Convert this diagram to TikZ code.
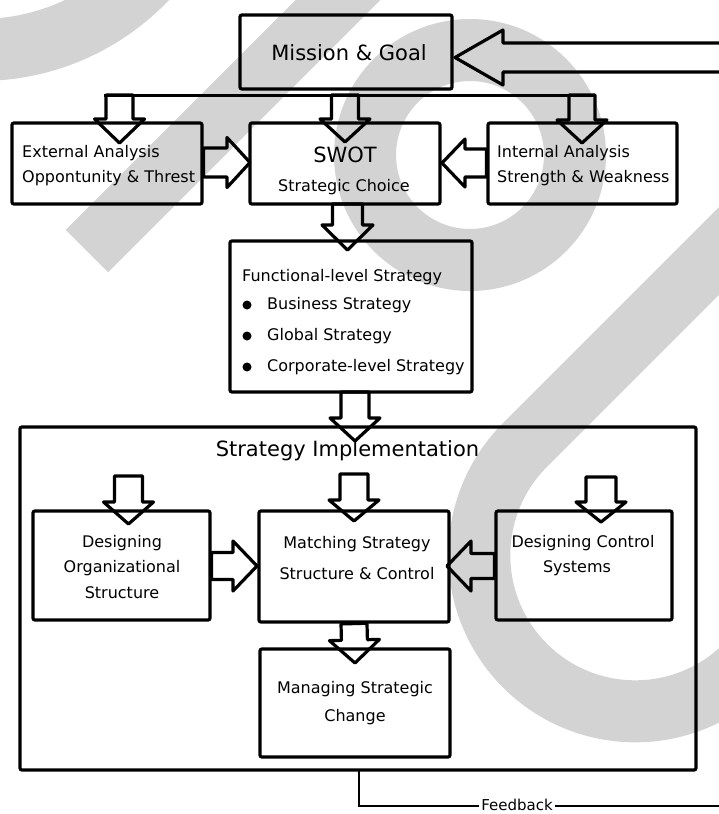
\documentclass[tikz,border=0pt]{standalone}
\usepackage{fontspec}
\setmainfont{DejaVu Sans}
\usetikzlibrary{calc}
\definecolor{wmgray}{RGB}{211,211,211}
\newcommand{\hollowarrow}[5]{%
  \path ($(#2)!#5!(#1)$) coordinate (hb);
  \draw[hollow] ($(#1)!#3!90:(#2)$) -- ($(hb)!#3!90:(#2)$) -- ($(hb)!#4!90:(#2)$) -- (#2)
    -- ($(hb)!#4!-90:(#2)$) -- ($(hb)!#3!-90:(#2)$) -- ($(#1)!#3!-90:(#2)$) -- cycle;
}
\tikzset{
  box/.style={draw, line width=3.2pt, rounded corners=2pt, inner sep=0pt},
  hollow/.style={draw, line width=3.2pt, line join=round},
  small/.style={font=\fontsize{16}{19}\selectfont, inner sep=0pt},
  big/.style={font=\fontsize{21}{25}\selectfont, inner sep=0pt},
  wm/.style={draw=wmgray, line cap=butt},
}
\begin{document}
\begin{tikzpicture}[x=1pt,y=-1pt]
\useasboundingbox (0,0) rectangle (719,814);
\clip (0,0) rectangle (719,814);
\fill[white] (0,0) rectangle (719,814);
% watermark
\draw[wm, line width=62pt] (-20,-180) circle (230);
\draw[wm, line width=60pt] (87,251) -- (487,-149);
\draw[wm, line width=62pt] (470,155) circle (105);
\draw[wm, line width=62pt] (825,145) -- (525,445) arc[start angle=225, end angle=-30, radius=156];
% boxes
\node[box, minimum width=212, minimum height=74] (mission) at (346,52) {};
\node[box, minimum width=190, minimum height=81] (ext) at (107,163.5) {};
\node[box, minimum width=190, minimum height=81] (swot) at (345,163.5) {};
\node[box, minimum width=189, minimum height=81] (int) at (582.5,163.5) {};
\node[box, minimum width=242, minimum height=151] (func) at (351,316.5) {};
\node[box, minimum width=676, minimum height=343] (impl) at (358,598.5) {};
\node[box, minimum width=177, minimum height=109] (org) at (121.5,565.5) {};
\node[box, minimum width=190, minimum height=111] (match) at (354,566.5) {};
\node[box, minimum width=176, minimum height=109] (dcs) at (584,565.5) {};
\node[box, minimum width=190, minimum height=108] (manage) at (355,703) {};
% texts
\node[big] (missiont) at (349,53) {Mission \& Goal};
\node[small, anchor=west] (ext1) at (22,153) {External Analysis};
\node[small, anchor=west] (ext2) at (22,178) {Oppontunity \& Threst};
\node[big] (swot1) at (345,155) {SWOT};
\node[small] (swot2) at (344,187) {Strategic Choice};
\node[small, anchor=west] (int1) at (497,153) {Internal Analysis};
\node[small, anchor=west] (int2) at (497,178) {Strength \& Weakness};
\node[small, anchor=west] (func0) at (242,277) {Functional-level Strategy};
\fill (247,305) circle (4.5) (247,336) circle (4.5) (247,367) circle (4.5);
\node[small, anchor=west] (func1) at (267,305) {Business Strategy};
\node[small, anchor=west] (func2) at (267,336) {Global Strategy};
\node[small, anchor=west] (func3) at (267,367) {Corporate-level Strategy};
\node[big] (implt) at (347.5,451) {Strategy Implementation};
\node[small] (org1) at (122,543) {Designing};
\node[small] (org2) at (122,568) {Organizational};
\node[small] (org3) at (122,593) {Structure};
\node[small] (match1) at (357,544) {Matching Strategy};
\node[small] (match2) at (357,574) {Structure \& Control};
\node[small] (dcs1) at (583,543) {Designing Control};
\node[small] (dcs2) at (577,568) {Systems};
\node[small] (man1) at (355,689) {Managing Strategic};
\node[small] (man2) at (355,717) {Change};
% connector coordinates
\coordinate (busL) at (104,95);
\coordinate (busR) at (596,95);
\coordinate (busE) at (119.5,95);
\coordinate (busS) at (345,95);
\coordinate (busI) at (582,95);
\coordinate (tipE) at (119.5,143);
\coordinate (tipS) at (345,142);
\coordinate (tipI) at (582,143);
\coordinate (fbin) at (730,57.5);
\coordinate (mtip) at (455,57.5);
\draw[line width=3pt] (busL) -- (busR);
\hollowarrow{busE}{tipE}{13.5pt}{25pt}{24pt}
\hollowarrow{busS}{tipS}{13.5pt}{25pt}{23pt}
\hollowarrow{busI}{tipI}{13pt}{25pt}{23pt}
\hollowarrow{fbin}{mtip}{14.5pt}{27.5pt}{48pt}
\coordinate (e1) at (ext.east |- 0,162.5);
\coordinate (e2) at (250,162.5);
\hollowarrow{e1}{e2}{14.5pt}{25pt}{23pt}
\coordinate (i1) at (int.west |- 0,163);
\coordinate (i2) at (442,163);
\hollowarrow{i1}{i2}{14pt}{24pt}{23pt}
\coordinate (s1) at (347.5,204);
\coordinate (s2) at (347.5,250);
\hollowarrow{s1}{s2}{15pt}{25.5pt}{25pt}
\coordinate (f1) at (355,392);
\coordinate (f2) at (355,441);
\hollowarrow{f1}{f2}{14pt}{25pt}{23pt}
\coordinate (o1) at (128.5,476);
\coordinate (o2) at (128.5,524);
\hollowarrow{o1}{o2}{14pt}{25pt}{22pt}
\coordinate (m1) at (354,474);
\coordinate (m2) at (354,521);
\hollowarrow{m1}{m2}{14pt}{25pt}{21pt}
\coordinate (d1) at (601,477);
\coordinate (d2) at (601,522);
\hollowarrow{d1}{d2}{15pt}{25pt}{20pt}
\coordinate (g1) at (org.east |- 0,566);
\coordinate (g2) at (257,566);
\hollowarrow{g1}{g2}{13.5pt}{25pt}{24pt}
\coordinate (c1) at (dcs.west |- 0,566);
\coordinate (c2) at (447,566);
\hollowarrow{c1}{c2}{12.5pt}{25pt}{24pt}
\coordinate (x1) at (match.south);
\coordinate (x2) at (355,663);
\hollowarrow{x1}{x2}{13pt}{25pt}{23pt}
% feedback
\coordinate (fb0) at (359,770);
\coordinate (fb1) at (359,806);
\coordinate (fb2) at (730,806);
\draw[line width=2.8pt] (fb0) -- (fb1) -- (fb2);
\node[fill=white, font=\fontsize{15}{17}\selectfont, inner xsep=2pt, inner ysep=0pt, anchor=base] (fbt) at (517,810) {Feedback};
\end{tikzpicture}
\end{document}
